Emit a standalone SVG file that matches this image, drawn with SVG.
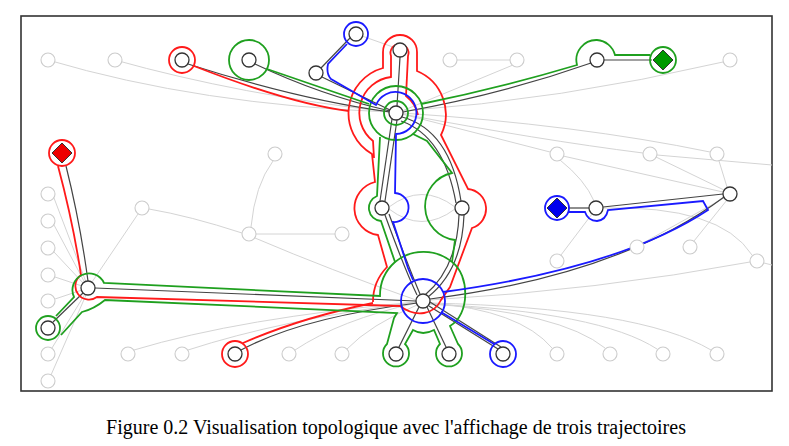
<svg xmlns="http://www.w3.org/2000/svg" width="789" height="446" viewBox="0 0 789 446">
<style>
.g{stroke:#d4d4d4;fill:none;stroke-width:1}
.ln{fill:#fff;stroke:#cccccc;stroke-width:1.1}
.d{stroke:#444;fill:none;stroke-width:1.2}
.r{stroke:#ff1a1a;fill:none;stroke-width:1.8}
.gr{stroke:#1fa01f;fill:none;stroke-width:1.8}
.b{stroke:#1a1aff;fill:none;stroke-width:1.8}
.n{fill:#fff;stroke:#333;stroke-width:1.3}
.cap{font-family:"Liberation Serif","Times New Roman",serif;font-size:20px;fill:#000}
</style>
<rect x="0" y="0" width="789" height="446" fill="#fff"/>
<rect x="21" y="16" width="751" height="375" fill="#fff" stroke="#333" stroke-width="1.6"/>
<g id="connectors">
<g id="background-edges">
<path class="g" d="M48,60 Q200,105 390,112"/>
<path class="g" d="M115,60 Q240,95 390,112"/>
<path class="g" d="M457,60 L510,60"/>
<path class="g" d="M513,65 L402,111"/>
<path class="g" d="M402,111 Q560,100 723,62"/>
<path class="g" d="M402,114 L550,152"/>
<path class="g" d="M563,156 L723,192"/>
<path class="g" d="M560,160 Q585,180 594,201"/>
<path class="g" d="M592,214 L561,255"/>
<path class="g" d="M402,114 Q540,140 643,153"/>
<path class="g" d="M657,155 L772,165"/>
<path class="g" d="M656,157 L724,190"/>
<path class="g" d="M719,161 L727,187"/>
<path class="g" d="M402,113 Q580,125 710,152"/>
<path class="g" d="M727,200 L694,241"/>
<path class="g" d="M724,198 L643,243"/>
<path class="g" d="M603,208 Q720,205 752,255"/>
<path class="g" d="M764,263 L772,265"/>
<path class="g" d="M430,300 Q600,290 750,262"/>
<path class="g" d="M430,303 Q520,310 552,348"/>
<path class="g" d="M430,304 Q560,312 605,348"/>
<path class="g" d="M430,304 Q600,312 657,349"/>
<path class="g" d="M430,303 Q640,308 711,350"/>
<path class="g" d="M416,303 Q340,320 295,350"/>
<path class="g" d="M417,305 Q370,325 347,349"/>
<path class="g" d="M134,350 Q240,318 416,302"/>
<path class="g" d="M188,350 Q280,320 416,302"/>
<path class="g" d="M255,238 Q330,270 416,300"/>
<path class="g" d="M256,234 L335,234"/>
<path class="g" d="M242,233 Q190,216 149,209"/>
<path class="g" d="M251,227 Q255,185 273,161"/>
<path class="g" d="M138,214 L92,282"/>
<path class="g" d="M54,198 L86,282"/>
<path class="g" d="M54,225 L85,283"/>
<path class="g" d="M54,252 L84,284"/>
<path class="g" d="M55,277 L82,286"/>
<path class="g" d="M55,299 L82,290"/>
<path class="g" d="M52,348 L85,294"/>
<path class="g" d="M51,375 L86,295"/>
<path class="g" d="M389,207 Q422,182 455,207"/>
<path class="g" d="M389,209 Q422,234 455,209"/>
<path class="g" d="M362,36 L393,47"/>
</g>
<g id="trajectory-edges">
<path class="d" d="M66,166 Q80,222 88,281"/>
<path class="d" d="M95,288 L416,301"/>
<path class="d" d="M83,293 L53,322"/>
<path class="d" d="M417,303 Q300,318 241,350"/>
<path class="d" d="M419,307 L399,347"/>
<path class="d" d="M427,307 L446,347"/>
<path class="d" d="M429,306 L498,349"/>
<path class="d" d="M430,302 L501,347"/>
<path class="d" d="M430,299 Q620,275 724,197"/>
<path class="d" d="M603,207 L723,194"/>
<path class="d" d="M568,208 L589,208"/>
<path class="d" d="M403,112 Q500,95 591,63"/>
<path class="d" d="M604,60 L652,60"/>
<path class="d" d="M188,64 Q300,100 390,112"/>
<path class="d" d="M255,64 Q320,95 390,111"/>
<path class="d" d="M322,77 L390,110"/>
<path class="d" d="M321,68 L350,38"/>
<path class="d" d="M397,106 L400,57"/>
<path class="d" d="M392,119 L380,201"/>
<path class="d" d="M397,120 L385,201"/>
<path class="d" d="M385,215 Q405,270 417,295"/>
<path class="d" d="M389,214 Q409,268 420,294"/>
<path class="d" d="M402,117 Q450,130 461,201"/>
<path class="d" d="M401,121 Q444,136 456,203"/>
<path class="d" d="M464,215 Q462,270 428,297"/>
<path class="d" d="M459,215 Q457,268 425,295"/>
</g>
<g id="red-trajectory">
<circle class="r" cx="62" cy="153" r="13"/>
<circle class="r" cx="182" cy="60" r="13"/>
<circle class="r" cx="235" cy="354" r="13"/>
<path class="r" d="M58,166 Q73,222 81,275 A12,12 0 1 0 97,297 L400,306 Q412,315 424,313 Q436,311 441,300 L450,287 L472,228 A20,20 0 0 0 468,189 L441,135 A47,47 0 0 0 417,71 L417,52 A17,17 0 1 0 383,52 L383,68 A47,47 0 0 0 372,154 L375,182 A27,27 0 0 0 378,235 L387,267 A50,50 0 0 0 373,302"/>
<path class="r" d="M374,158 L373,141 A36,36 0 0 1 391,77 L391,56 A9,9 0 1 1 408,56 L406,96 Q416,104 418,115"/>
<path class="r" d="M194,66 Q291,104 349,111"/>
<path class="r" d="M243,343 Q300,318 373,303"/>
</g>
<g id="green-trajectory">
<circle class="gr" cx="663" cy="60" r="13"/>
<circle class="gr" cx="249" cy="60" r="20"/>
<circle class="gr" cx="48" cy="328" r="12"/>
<circle class="gr" cx="396" cy="113" r="27"/>
<circle class="gr" cx="396" cy="113" r="12"/>
<path class="gr" d="M650,55 L615,55 A20,20 0 0 0 597,40 A20,20 0 0 0 577,65 Q500,88 421,104"/>
<path class="gr" d="M267,69 L369,104"/>
<path class="gr" d="M380,137 L377,196 A13,13 0 0 0 381,221 L395,262 A45,45 0 0 0 380,296 L104,283 A15,15 0 1 0 74,297 L56,316"/>
<path class="gr" d="M395,262 A45,45 0 0 1 452,262"/>
<path class="gr" d="M452,262 C470,275 470,315 450,326 L458,344 A13,13 0 1 1 440,344 L434,330 Q423,336 413,330 L405,344 A13,13 0 1 1 387,344 L394,318 L397,313 L105,300 Q94,309 82,312 L61,335"/>
<path class="gr" d="M413,134 L427,141 L452,173 A34,34 0 0 0 455,240 L452,262"/>
</g>
<g id="blue-trajectory">
<circle class="b" cx="557" cy="208" r="12"/>
<circle class="b" cx="356" cy="34" r="12"/>
<circle class="b" cx="503" cy="354" r="13"/>
<circle class="b" cx="423" cy="301" r="22"/>
<path class="b" d="M568,212 L585,212 Q588,221 597,221 Q606,220 608,210 L703,201 L708,210 Q620,268 443,292"/>
<path class="b" d="M441,312 L494,344"/>
<path class="b" d="M413,280 L408,268 L393,222 A14,14 0 0 0 395,193 L396,134 A21,21 0 1 0 376,105 L331,79 Q326,74 328,64 L347,44"/>
</g>
</g>
<g id="background-nodes">
<circle class="ln" cx="48" cy="60" r="7"/><circle class="ln" cx="115" cy="60" r="7"/>
<circle class="ln" cx="450" cy="60" r="7"/><circle class="ln" cx="517" cy="60" r="7"/>
<circle class="ln" cx="730" cy="60" r="7"/>
<circle class="ln" cx="275" cy="154" r="7"/><circle class="ln" cx="142" cy="208" r="7"/>
<circle class="ln" cx="249" cy="234" r="7"/><circle class="ln" cx="342" cy="234" r="7"/>
<circle class="ln" cx="48" cy="194" r="7"/><circle class="ln" cx="48" cy="221" r="7"/>
<circle class="ln" cx="48" cy="248" r="7"/><circle class="ln" cx="48" cy="275" r="7"/>
<circle class="ln" cx="48" cy="301" r="7"/><circle class="ln" cx="48" cy="354" r="7"/>
<circle class="ln" cx="48" cy="381" r="7"/>
<circle class="ln" cx="128" cy="354" r="7"/><circle class="ln" cx="182" cy="354" r="7"/>
<circle class="ln" cx="289" cy="354" r="7"/><circle class="ln" cx="342" cy="354" r="7"/>
<circle class="ln" cx="557" cy="354" r="7"/><circle class="ln" cx="610" cy="354" r="7"/>
<circle class="ln" cx="663" cy="354" r="7"/><circle class="ln" cx="717" cy="354" r="7"/>
<circle class="ln" cx="557" cy="154" r="7"/><circle class="ln" cx="650" cy="154" r="7"/>
<circle class="ln" cx="717" cy="154" r="7"/><circle class="ln" cx="557" cy="261" r="7"/>
<circle class="ln" cx="637" cy="247" r="7"/><circle class="ln" cx="690" cy="247" r="7"/>
<circle class="ln" cx="757" cy="261" r="7"/>
</g>
<g id="node-H1"><circle class="n" cx="396" cy="113" r="7"/></g>
<g id="node-H2"><circle class="n" cx="423" cy="301" r="7"/></g>
<g id="node-L"><circle class="n" cx="88" cy="288" r="7"/></g>
<g id="node-182"><circle class="n" cx="182" cy="60" r="7"/></g>
<g id="node-249"><circle class="n" cx="249" cy="60" r="7"/></g>
<g id="node-355"><circle class="n" cx="356" cy="34" r="7"/></g>
<g id="node-316"><circle class="n" cx="316" cy="73" r="7"/></g>
<g id="node-400"><circle class="n" cx="400" cy="50" r="7"/></g>
<g id="node-597"><circle class="n" cx="597" cy="60" r="7"/></g>
<g id="node-382"><circle class="n" cx="382" cy="208" r="7"/></g>
<g id="node-462"><circle class="n" cx="462" cy="208" r="7"/></g>
<g id="node-48"><circle class="n" cx="48" cy="328" r="7"/></g>
<g id="node-235"><circle class="n" cx="235" cy="354" r="7"/></g>
<g id="node-396"><circle class="n" cx="396" cy="354" r="7"/></g>
<g id="node-449"><circle class="n" cx="449" cy="354" r="7"/></g>
<g id="node-503"><circle class="n" cx="503" cy="354" r="7"/></g>
<g id="node-596"><circle class="n" cx="596" cy="208" r="7"/></g>
<g id="node-R"><circle class="n" cx="730" cy="194" r="7"/></g>
<g id="diamond-red"><polygon points="62,143 72,153 62,163 52,153" fill="#ee0000" stroke="#333" stroke-width="1"/></g>
<g id="diamond-green"><polygon points="663,50 673,60 663,70 653,60" fill="#009900" stroke="#333" stroke-width="1"/></g>
<g id="diamond-blue"><polygon points="557,198 567,208 557,218 547,208" fill="#0000ee" stroke="#333" stroke-width="1"/></g>
<text class="cap" x="396" y="434" text-anchor="middle">Figure 0.2 Visualisation topologique avec l'affichage de trois trajectoires</text>
</svg>
